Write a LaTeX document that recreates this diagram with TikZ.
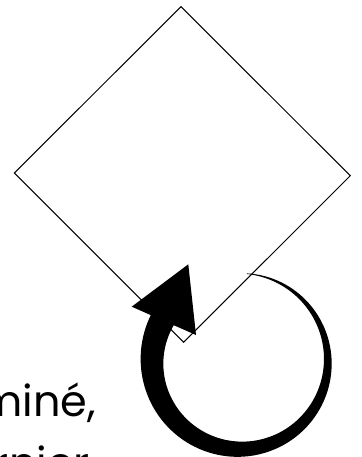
\documentclass[tikz,border=0pt]{standalone}
\usepackage{fontspec}
\setmainfont{Poppins}
\begin{document}
\begin{tikzpicture}[x=1pt,y=-1pt,
  shapeline/.style={draw=black,line width=1pt,line join=miter,fill=white},
  lbl/.style={font=\fontsize{43}{52}\selectfont,inner sep=0pt,anchor=base east,text=black},
  arrowfill/.style={fill=black,draw=none}]
\useasboundingbox (0,0) rectangle (361,457);
\clip (0,0) rectangle (361,457);
\fill[white] (0,0) rectangle (361,457);
% diamond corners
\coordinate (top) at (181,6.7);
\coordinate (right) at (350.3,175.7);
\coordinate (bottom) at (183.6,342.3);
\coordinate (left) at (14.3,173);
\draw[shapeline] (top) -- (right) -- (bottom) -- (left) -- cycle;
% labels (cropped by the picture's edge)
\node[lbl] (l1) at (96,416.7) {terminé,};
\node[lbl] (l2) at (90,478) {dernier};
% tapered circular arrow
\fill[arrowfill]
  plot[domain=85.5:-210,samples=120,variable=\t]
    ({239.9+(87.9+0.5*(7.7-0.0833*\t))*cos(\t)},{361.3-(87.9+0.5*(7.7-0.0833*\t))*sin(\t)})
  -- plot[domain=-210:85.5,samples=120,variable=\t]
    ({239.9+(87.9-0.5*(7.7-0.0833*\t))*cos(\t)},{361.3-(87.9-0.5*(7.7-0.0833*\t))*sin(\t)})
  -- cycle;
\coordinate (hl) at (131.7,306.7);
\coordinate (ht) at (188.3,264.3);
\coordinate (hr) at (196,335);
\fill[arrowfill] (hl) -- (ht) -- (hr) -- cycle;
\end{tikzpicture}
\end{document}
